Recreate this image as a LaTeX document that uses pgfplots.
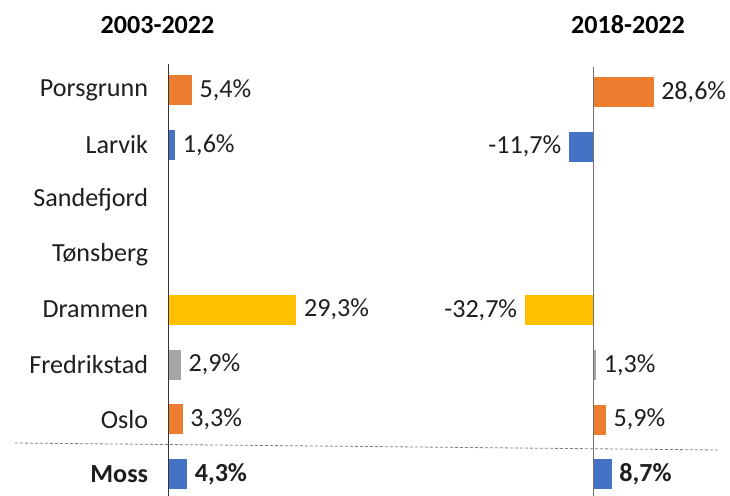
\documentclass[border=0pt]{standalone}
\usepackage{fontspec}
\setmainfont{Carlito}
\usepackage{pgfplots}
\pgfplotsset{compat=1.18}
\definecolor{xlOrange}{HTML}{ED7D31}
\definecolor{xlBlue}{HTML}{4472C4}
\definecolor{xlYellow}{HTML}{FFC000}
\definecolor{xlGray}{HTML}{A5A5A5}
\definecolor{labelText}{HTML}{1E1E1E}
\newcommand{\bigfont}{\fontsize{26.2}{30}\selectfont}

\pgfplotsset{
  panel/.style={
    y dir=reverse, ymin=-0.47, ymax=7.6,
    xbar, bar width=30bp, bar shift=0pt,
    clip=false, point meta=x,
    nodes near coords={\pgfmathprintnumber[fixed,fixed zerofill,precision=1,use comma,assume math mode=true]{\pgfplotspointmeta}\%},
    every node near coord/.append style={font=\bigfont, text=labelText, inner xsep=7.5bp, inner ysep=0pt},
  },
  cbar/.style={fill=#1, draw=none},
  neg/.style={every node near coord/.append style={anchor=east}},
  moss/.style={every node near coord/.append style={font=\bigfont\bfseries}},
}

\begin{document}
\begin{tikzpicture}
  \useasboundingbox (0,0) rectangle (730bp,496bp);

  % 2003-2022
  \begin{axis}[
    panel, x=4.37bp, y=54.9bp, xmin=0, xmax=40,
    at={(168.3bp,406bp)}, anchor=origin,
    axis on top,
    axis x line=none, axis y line*=left,
    y axis line style={draw=black!80, line width=1.2bp},
    ytick={0,...,7},
    yticklabels={Porsgrunn,Larvik,Sandefjord,Tønsberg,Drammen,Fredrikstad,Oslo,\textbf{Moss}},
    major tick length=0pt,
    yticklabel style={font=\bigfont, text=labelText, inner xsep=0pt},
    yticklabel shift=20bp,
  ]
    \addplot[cbar=xlOrange] coordinates {(5.4,0)};
    \addplot[cbar=xlBlue] coordinates {(1.6,1)};
    \addplot[cbar=xlYellow] coordinates {(29.3,4)};
    \addplot[cbar=xlGray] coordinates {(2.9,5)};
    \addplot[cbar=xlOrange] coordinates {(3.3,6)};
    \addplot[cbar=xlBlue, moss] coordinates {(4.3,7)};
  \end{axis}

  % 2018-2022
  \begin{axis}[
    panel, x=2.1bp, y=54.6bp, xmin=-40, xmax=40,
    at={(593.5bp,404bp)}, anchor=origin,
    hide axis,
  ]
    \addplot[cbar=xlOrange] coordinates {(28.6,0)};
    \addplot[cbar=xlBlue, neg] coordinates {(-11.7,1)};
    \addplot[cbar=xlYellow, neg] coordinates {(-32.7,4)};
    \addplot[cbar=xlGray] coordinates {(1.3,5)};
    \addplot[cbar=xlOrange] coordinates {(5.9,6)};
    \addplot[cbar=xlBlue, moss] coordinates {(8.7,7)};
    \draw[draw=black!55, line width=1.2bp] (axis cs:0,-0.46) -- (axis cs:0,7.6);
  \end{axis}

  \draw[draw=black!50, line width=0.8bp, dash pattern=on 3bp off 2bp] (15bp,53bp) -- (718bp,46bp);

  \node[font=\bigfont\bfseries, text=black] at (157.5bp,471bp) {2003-2022};
  \node[font=\bigfont\bfseries, text=black] at (628bp,471bp) {2018-2022};
\end{tikzpicture}
\end{document}
